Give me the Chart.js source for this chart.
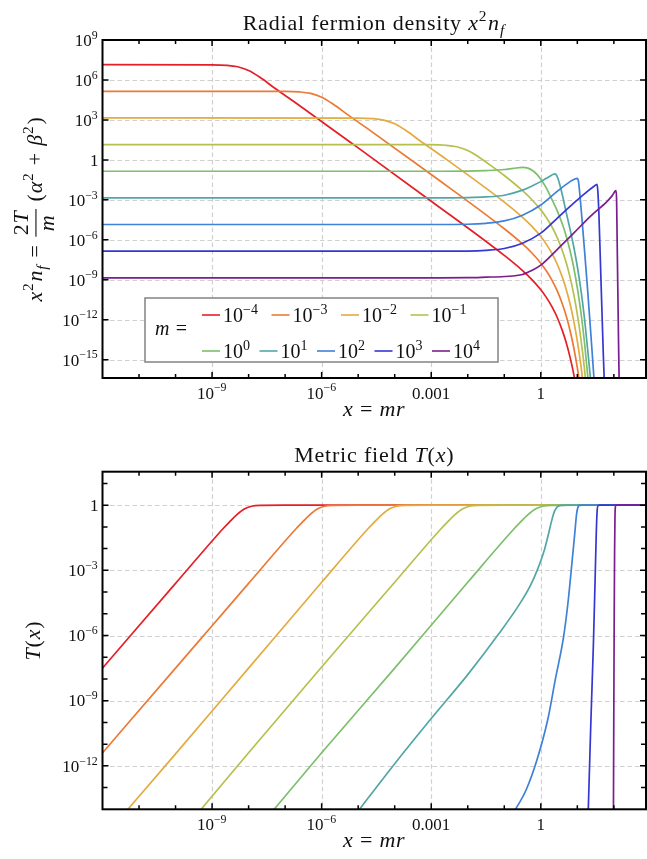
<!DOCTYPE html>
<html>
<head>
<meta charset="utf-8">
<script src="https://cdn.jsdelivr.net/npm/chart.js@4/dist/chart.umd.min.js"></script>
<style>
  html, body { margin: 0; padding: 0; background: #fff; }
  #wrap { position: relative; width: 647px; height: 859px; }
  canvas { position: absolute; left: 0; }
</style>
</head>
<body>
<div id="wrap">
  <canvas id="densityChart" width="647" height="430" style="top:0"></canvas>
  <canvas id="metricChart" width="647" height="429" style="top:430px"></canvas>
</div>
<script>
// Valeurs, en exposants décimaux : [log10 x, log10 y]
const massLabels = ['10^-4', '10^-3', '10^-2', '10^-1', '10^0', '10^1', '10^2', '10^3', '10^4'];
const massColors = ['#e41f26', '#ec7a35', '#e3ab40', '#b7c04e', '#7dbf6a', '#52a7a6', '#3f80d8', '#3537d1', '#7b1d8f'];

// x^2 n_f
const dens_m4 = [[-12.05,7.15],[-9.0,7.14],[-8.6,7.10],[-8.3,6.99],[-8.0,6.71],[-7.7,6.22],[-7.3,5.42],[-6.8,4.46],[-5.0,0.90],[-3.0,-3.10],[-1.0,-7.17],[-0.5,-8.31],[-0.25,-8.97],[0,-9.75],[0.15,-10.32],[0.3,-11.0],[0.45,-11.83],[0.6,-12.89],[0.7,-13.76],[0.8,-14.8],[0.9,-16.06],[1.0,-17.6]];
const dens_m3 = [[-12.05,5.15],[-7.0,5.14],[-6.6,5.10],[-6.3,4.99],[-6.0,4.71],[-5.7,4.22],[-5.3,3.42],[-4.8,2.46],[-3.0,-1.10],[-1.0,-5.17],[-0.5,-6.31],[-0.25,-6.97],[0,-7.75],[0.15,-8.32],[0.3,-9.0],[0.45,-9.83],[0.6,-10.89],[0.7,-11.76],[0.8,-12.8],[0.9,-14.06],[1.0,-15.6],[1.1,-17.48]];
const dens_m2 = [[-12.05,3.15],[-5.0,3.14],[-4.6,3.10],[-4.3,2.99],[-4.0,2.71],[-3.7,2.22],[-3.3,1.42],[-2.8,0.46],[-1.0,-3.17],[-0.5,-4.31],[-0.25,-4.97],[0,-5.75],[0.15,-6.32],[0.3,-7.0],[0.45,-7.83],[0.6,-8.89],[0.7,-9.76],[0.8,-10.8],[0.9,-12.06],[1.0,-13.6],[1.1,-15.48],[1.2,-17.8]];
const dens_m1 = [[-12.05,1.15],[-3.0,1.14],[-2.6,1.10],[-2.3,0.99],[-2.0,0.71],[-1.7,0.22],[-1.3,-0.56],[-1.0,-1.17],[-0.5,-2.31],[-0.25,-2.97],[0,-3.75],[0.15,-4.32],[0.3,-5.0],[0.45,-5.83],[0.6,-6.89],[0.7,-7.76],[0.8,-8.8],[0.9,-10.06],[1.0,-11.6],[1.1,-13.48],[1.2,-15.8],[1.3,-18.67]];
const dens_0 = [[-12.05,-0.85],[-3.0,-0.85],[-2.0,-0.84],[-1.5,-0.80],[-1.0,-0.72],[-0.75,-0.63],[-0.5,-0.56],[-0.35,-0.62],[-0.2,-0.85],[-0.1,-1.1],[0,-1.45],[0.15,-2.1],[0.3,-2.95],[0.45,-3.83],[0.6,-4.89],[0.7,-5.76],[0.8,-6.8],[0.9,-8.06],[1.0,-9.6],[1.1,-11.48],[1.2,-13.8],[1.3,-16.67]];
const dens_1 = [[-12.05,-2.85],[-3.0,-2.85],[-2.0,-2.83],[-1.5,-2.78],[-1.0,-2.65],[-0.5,-2.27],[-0.2,-1.9],[0,-1.63],[0.15,-1.38],[0.26,-1.2],[0.33,-1.09],[0.39,-1.05],[0.44,-1.2],[0.5,-1.65],[0.6,-2.75],[0.7,-4.0],[0.8,-5.2],[0.9,-6.5],[1.0,-8.0],[1.1,-9.8],[1.2,-12.0],[1.3,-14.7],[1.38,-17.0]];
const dens_2 = [[-12.05,-4.85],[-3.0,-4.85],[-2.0,-4.83],[-1.5,-4.76],[-1.0,-4.58],[-0.5,-4.15],[0,-3.38],[0.44,-2.38],[0.8,-1.63],[0.92,-1.45],[1.0,-1.38],[1.03,-1.6],[1.07,-2.6],[1.12,-4.2],[1.2,-6.9],[1.28,-9.7],[1.36,-12.7],[1.42,-15.0],[1.47,-17.0]];
const dens_3 = [[-12.05,-6.85],[-3.0,-6.85],[-2.0,-6.84],[-1.5,-6.79],[-1.0,-6.65],[-0.5,-6.25],[0,-5.5],[0.44,-4.4],[0.9,-3.25],[1.26,-2.4],[1.45,-2.0],[1.54,-1.83],[1.56,-2.3],[1.59,-4.0],[1.63,-7.5],[1.67,-11.0],[1.71,-14.5],[1.75,-17.5]];
const dens_4 = [[-12.05,-8.85],[-3.0,-8.85],[-2.0,-8.84],[-1.5,-8.8],[-1.0,-8.75],[-0.5,-8.6],[-0.25,-8.3],[0,-7.9],[0.44,-6.75],[0.9,-5.5],[1.35,-4.25],[1.81,-3.13],[1.95,-2.7],[2.06,-2.3],[2.075,-3.0],[2.09,-6.0],[2.11,-10.0],[2.13,-14.0],[2.15,-17.5]];

// T(x)
const met_m4 = [[-12.05,-7.6],[-10,-3.6],[-9,-1.65],[-8.72,-1.12],[-8.52,-0.77],[-8.32,-0.44],[-8.12,-0.18],[-7.92,-0.05],[-7.67,-0.01],[-7,0],[2.9,0]];
const met_m3 = [[-12.05,-11.5],[-10,-7.5],[-9,-5.55],[-8,-3.6],[-6.72,-1.12],[-6.52,-0.77],[-6.32,-0.44],[-6.12,-0.18],[-5.92,-0.05],[-5.67,-0.01],[-5,0],[2.9,0]];
const met_m2 = [[-11.46,-14.3],[-10,-11.45],[-8,-7.5],[-6,-3.55],[-4.75,-1.12],[-4.55,-0.77],[-4.35,-0.44],[-4.15,-0.18],[-3.95,-0.05],[-3.7,-0.01],[-3,0],[2.9,0]];
const met_m1 = [[-9.45,-14.3],[-8,-11.4],[-6,-7.45],[-4,-3.55],[-2.75,-1.12],[-2.55,-0.77],[-2.35,-0.44],[-2.15,-0.18],[-1.95,-0.05],[-1.7,-0.01],[-1,0],[2.9,0]];
const met_0 = [[-7.45,-14.3],[-6,-11.4],[-4,-7.5],[-2,-3.55],[-0.75,-1.12],[-0.55,-0.77],[-0.35,-0.44],[-0.15,-0.18],[0.05,-0.05],[0.3,-0.01],[1,0],[2.9,0]];
const met_1 = [[-5.1,-14.3],[-4,-11.9],[-3,-9.82],[-2,-7.8],[-1.14,-5.9],[-0.6,-4.6],[-0.3,-3.75],[-0.1,-3.0],[0.1,-2.05],[0.2,-1.4],[0.3,-0.7],[0.37,-0.3],[0.45,-0.08],[0.55,-0.01],[0.7,0],[2.9,0]];
const met_2 = [[-0.8,-14.3],[-0.4,-13.1],[-0.1,-11.7],[0.2,-9.8],[0.4,-8.0],[0.62,-6.1],[0.75,-4.4],[0.85,-2.7],[0.93,-1.3],[0.98,-0.4],[1.02,-0.08],[1.06,-0.01],[1.15,0],[2.9,0]];
const met_3 = [[1.295,-14.3],[1.37,-10],[1.44,-6.4],[1.49,-3.2],[1.52,-1.2],[1.545,-0.2],[1.57,-0.02],[1.62,0],[2.9,0]];
const met_4 = [[1.988,-14.3],[2.0,-9],[2.01,-5],[2.02,-2.2],[2.03,-0.6],[2.04,-0.1],[2.06,0],[2.9,0]];

const densitySeries = [dens_m4, dens_m3, dens_m2, dens_m1, dens_0, dens_1, dens_2, dens_3, dens_4];
const metricSeries = [met_m4, met_m3, met_m2, met_m1, met_0, met_1, met_2, met_3, met_4];

// axes
const xMin = 1e-12, xMax = 10 ** 2.88;
const xTickValues = [1e-9, 1e-6, 1e-3, 1];
const xTickLabels = ['10^-9', '10^-6', '0.001', '1'];
const xDecades = [-11, -10, -9, -8, -7, -6, -5, -4, -3, -2, -1, 0, 1, 2];

const densYMin = 10 ** -16.37, densYMax = 1e9;
const densYTickValues = [1e9, 1e6, 1e3, 1, 1e-3, 1e-6, 1e-9, 1e-12, 1e-15];
const densYTickLabels = ['10^9', '10^6', '10^3', '1', '10^-3', '10^-6', '10^-9', '10^-12', '10^-15'];
const densYDecades = [6, 3, 0, -3, -6, -9, -12, -15];

const metYMin = 1e-14, metYMax = 10 ** 1.54;
const metYTickValues = [1, 1e-3, 1e-6, 1e-9, 1e-12];
const metYTickLabels = ['1', '10^-3', '10^-6', '10^-9', '10^-12'];
const metYDecades = [1, 0, -1, -2, -3, -4, -5, -6, -7, -8, -9, -10, -11, -12, -13];

// --- texte "mathématique" simple ---
const FONT = '"Liberation Serif", "Times New Roman", serif';
const setFont = (ctx, size, italic) => { ctx.font = `${italic ? 'italic ' : ''}${size}px ${FONT}`; };

const runWidth = (ctx, r, size) => {
  if (r.frac) return Math.max(runsWidth(ctx, r.num, size), runsWidth(ctx, r.den, size)) + size * 0.25;
  const sz = r.s ? size * 0.7 : size;
  setFont(ctx, sz, r.i);
  return ctx.measureText(r.t).width + (r.s ? size * 0.04 : 0);
};
const runsWidth = (ctx, runs, size) => runs.reduce((w, r) => w + runWidth(ctx, r, size), 0);

const drawRuns = (ctx, runs, x, y, size, align = 'left') => {
  const total = runsWidth(ctx, runs, size);
  let cx = align === 'center' ? x - total / 2 : align === 'right' ? x - total : x;
  ctx.textAlign = 'left';
  ctx.textBaseline = 'alphabetic';
  for (const r of runs) {
    const w = runWidth(ctx, r, size);
    if (r.frac) {
      drawRuns(ctx, r.num, cx + w / 2, y - size * 0.62, size, 'center');
      drawRuns(ctx, r.den, cx + w / 2, y + size * 0.55, size, 'center');
      ctx.fillRect(cx + size * 0.06, y - size * 0.3, w - size * 0.12, Math.max(1, size * 0.05));
    } else {
      const sz = r.s ? size * 0.7 : size;
      setFont(ctx, sz, r.i);
      const dy = r.s === 'sup' ? -size * 0.42 : r.s === 'sub' ? size * 0.22 : 0;
      ctx.fillText(r.t, cx, y + dy);
    }
    cx += w;
  }
};

const powRuns = (label) => {
  const [b, e] = label.split('^');
  return e === undefined ? [{ t: b }] : [{ t: b }, { t: e.replace('-', '\u2212'), s: 'sup' }];
};

const toPoints = (pairs) => pairs.map(([lx, ly]) => ({ x: 10 ** lx, y: 10 ** ly }));

// --- décor des axes ---
const decorPlugin = (panel) => ({
  id: 'decor',
  beforeDatasetsDraw(chart) {
    const { ctx, chartArea: a, scales: { x, y } } = chart;
    ctx.save();
    ctx.strokeStyle = '#d0d0d0';
    ctx.lineWidth = 1.2;
    ctx.setLineDash([4.5, 3]);
    ctx.beginPath();
    for (const v of xTickValues) {
      const px = Math.round(x.getPixelForValue(v)) + 0.5;
      ctx.moveTo(px, a.top); ctx.lineTo(px, a.bottom);
    }
    for (const v of panel.yTickValues) {
      const py = Math.round(y.getPixelForValue(v)) + 0.5;
      if (py > a.top + 2 && py < a.bottom - 2) { ctx.moveTo(a.left, py); ctx.lineTo(a.right, py); }
    }
    ctx.stroke();
    ctx.restore();
  },
  afterDatasetsDraw(chart) {
    const { ctx, chartArea: a, scales: { x, y } } = chart;
    ctx.save();
    ctx.setLineDash([]);
    ctx.strokeStyle = '#000';
    ctx.fillStyle = '#111';

    // ticks
    ctx.lineWidth = 1.5;
    ctx.beginPath();
    for (const d of xDecades) {
      const px = x.getPixelForValue(10 ** d);
      const len = d % 3 === 0 ? 6 : 4;
      ctx.moveTo(px, a.bottom); ctx.lineTo(px, a.bottom - len);
      ctx.moveTo(px, a.top); ctx.lineTo(px, a.top + len);
    }
    for (const d of panel.yDecades) {
      const py = y.getPixelForValue(10 ** d);
      const len = d % 3 === 0 ? 6 : 5;
      ctx.moveTo(a.left, py); ctx.lineTo(a.left + len, py);
      ctx.moveTo(a.right, py); ctx.lineTo(a.right - len, py);
    }
    ctx.stroke();

    // cadre
    ctx.lineWidth = 2;
    ctx.strokeRect(a.left, a.top, a.right - a.left, a.bottom - a.top);

    // étiquettes des graduations
    xTickValues.forEach((v, i) => {
      drawRuns(ctx, powRuns(xTickLabels[i]), x.getPixelForValue(v), a.bottom + 20.5, 17, 'center');
    });
    panel.yTickValues.forEach((v, i) => {
      drawRuns(ctx, powRuns(panel.yTickLabels[i]), 98.5, y.getPixelForValue(v) + 5.8, 17, 'right');
    });

    // titres
    const cx = (a.left + a.right) / 2;
    ctx.letterSpacing = '0.8px';
    drawRuns(ctx, panel.title, cx, panel.titleY, 22, 'center');
    drawRuns(ctx, [{ t: 'x', i: 1 }, { t: ' = ' }, { t: 'mr', i: 1 }], cx, a.bottom + 38, 22, 'center');
    ctx.save();
    ctx.translate(panel.yLabelX, (a.top + a.bottom) / 2);
    ctx.rotate(-Math.PI / 2);
    drawRuns(ctx, panel.yLabel, 0, 0, 22, 'center');
    ctx.restore();
    ctx.letterSpacing = '0px';

    if (panel.legend) drawLegend(ctx);
    ctx.restore();
  }
});

const drawLegend = (ctx) => {
  ctx.save();
  ctx.fillStyle = '#fff';
  ctx.fillRect(145, 298, 353, 64);
  ctx.strokeStyle = '#8a8a8a';
  ctx.lineWidth = 1.6;
  ctx.strokeRect(145, 298, 353, 64);
  ctx.fillStyle = '#111';
  ctx.letterSpacing = '0.6px';
  drawRuns(ctx, [{ t: 'm', i: 1 }, { t: ' =' }], 155, 335, 20, 'left');
  ctx.letterSpacing = '0px';
  const rows = [{ y: 315, pitch: 69.5, items: [0, 1, 2, 3] }, { y: 351, pitch: 57.5, items: [4, 5, 6, 7, 8] }];
  for (const row of rows) {
    row.items.forEach((k, j) => {
      const x0 = 202 + j * row.pitch;
      ctx.strokeStyle = massColors[k];
      ctx.lineWidth = 1.6;
      ctx.beginPath(); ctx.moveTo(x0, row.y); ctx.lineTo(x0 + 18, row.y); ctx.stroke();
      ctx.fillStyle = '#111';
      drawRuns(ctx, powRuns(massLabels[k]), x0 + 21, row.y + 7, 20, 'left');
    });
  }
  ctx.restore();
};

const makeChart = (id, seriesList, yMin, yMax, panel) => new Chart(document.getElementById(id), {
  type: 'scatter',
  data: {
    datasets: seriesList.map((s, i) => ({
      label: massLabels[i],
      data: toPoints(s),
      showLine: true,
      borderColor: massColors[i],
      borderWidth: 1.7,
      pointRadius: 0,
      fill: false,
      cubicInterpolationMode: 'monotone',
      order: seriesList.length - i
    }))
  },
  options: {
    responsive: false,
    animation: false,
    devicePixelRatio: 1,
    events: [],
    layout: { padding: panel.padding },
    elements: { line: { capBezierPoints: false } },
    plugins: { legend: { display: false }, tooltip: { enabled: false }, title: { display: false } },
    scales: {
      x: { type: 'logarithmic', min: xMin, max: xMax, display: false },
      y: { type: 'logarithmic', min: yMin, max: yMax, display: false }
    }
  },
  plugins: [decorPlugin(panel)]
});

makeChart('densityChart', densitySeries, densYMin, densYMax, {
  padding: { left: 102.5, top: 40, right: 1, bottom: 52 },
  yTickValues: densYTickValues, yTickLabels: densYTickLabels, yDecades: densYDecades,
  titleY: 30,
  title: [{ t: 'Radial fermion density ' }, { t: 'x', i: 1 }, { t: '2', s: 'sup' }, { t: 'n', i: 1 }, { t: 'f', i: 1, s: 'sub' }],
  yLabelX: 42,
  yLabel: [{ t: 'x', i: 1 }, { t: '2', s: 'sup' }, { t: 'n', i: 1 }, { t: 'f', i: 1, s: 'sub' }, { t: ' = ' },
    { frac: true, num: [{ t: '2' }, { t: 'T', i: 1 }], den: [{ t: 'm', i: 1 }] },
    { t: ' (' }, { t: '\u03b1', i: 1 }, { t: '2', s: 'sup' }, { t: ' + ' }, { t: '\u03b2', i: 1 }, { t: '2', s: 'sup' }, { t: ')' }],
  legend: true
});

makeChart('metricChart', metricSeries, metYMin, metYMax, {
  padding: { left: 102.5, top: 41.7, right: 1, bottom: 49.7 },
  yTickValues: metYTickValues, yTickLabels: metYTickLabels, yDecades: metYDecades,
  titleY: 32,
  title: [{ t: 'Metric field ' }, { t: 'T', i: 1 }, { t: '(' }, { t: 'x', i: 1 }, { t: ')' }],
  yLabelX: 40,
  yLabel: [{ t: 'T', i: 1 }, { t: '(' }, { t: 'x', i: 1 }, { t: ')' }],
  legend: false
});
</script>
</body>
</html>
